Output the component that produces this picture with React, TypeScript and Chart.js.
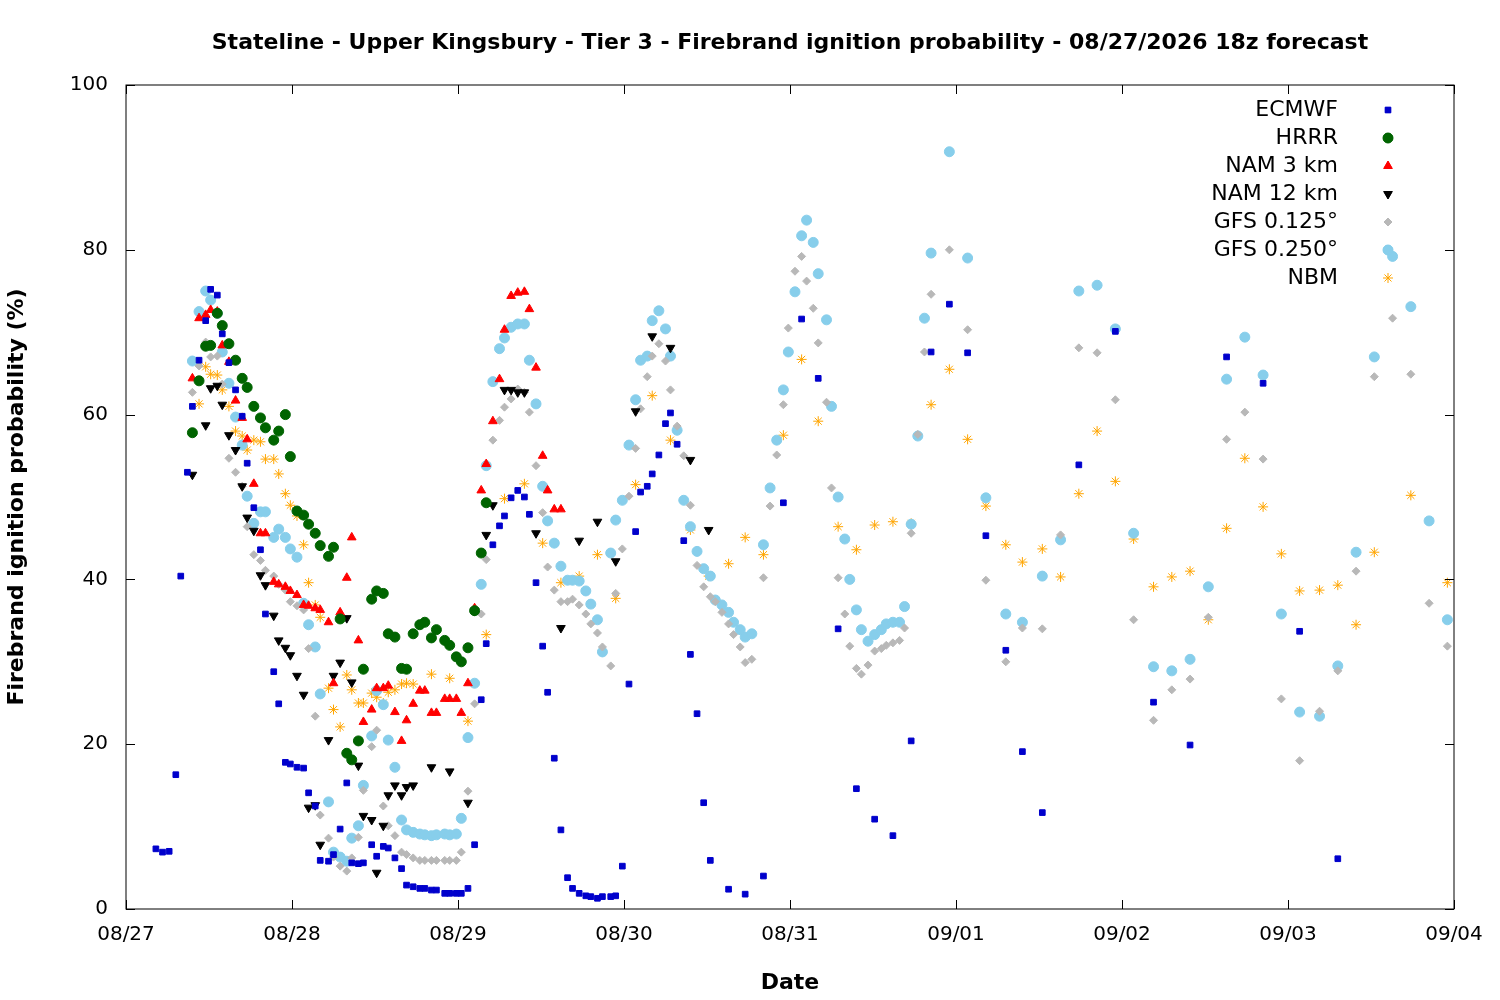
import React, { useEffect, useRef } from "react";
import { Chart, registerables } from "chart.js";
import { drawPoint } from "chart.js/helpers";
Chart.register(...registerables);

const dateLabels = ["08/27","08/28","08/29","08/30","08/31","09/01","09/02","09/03","09/04","09/05"];

// [day offset from 08/27 00z, probability %]
const ecmwf = [[.18,7.3],[.22,6.9],[.26,7.0],[.30,16.3],[.33,40.4],[.37,53.0],[.40,61.0],[.44,66.6],[.48,71.4],[.51,75.2],[.55,74.5],[.58,69.8],[.62,66.3],[.66,63.0],[.70,59.8],[.73,54.1],[.77,48.7],[.81,43.6],[.84,35.8],[.89,28.8],[.92,24.9],[.96,17.8],[.99,17.6],[1.03,17.2],[1.07,17.1],[1.10,14.1],[1.14,12.5],[1.17,5.9],[1.22,5.8],[1.25,6.6],[1.29,9.7],[1.33,15.3],[1.36,5.6],[1.40,5.5],[1.43,5.6],[1.48,7.8],[1.51,6.4],[1.55,7.6],[1.58,7.4],[1.62,6.2],[1.66,4.9],[1.69,2.9],[1.73,2.7],[1.77,2.5],[1.80,2.5],[1.84,2.3],[1.87,2.3],[1.92,1.9],[1.95,1.9],[1.99,1.9],[2.02,1.9],[2.06,2.5],[2.10,7.8],[2.14,25.4],[2.17,32.2],[2.21,44.2],[2.25,46.5],[2.28,47.7],[2.32,49.9],[2.36,50.8],[2.40,50.0],[2.43,47.9],[2.47,39.6],[2.51,31.9],[2.54,26.3],[2.58,18.3],[2.62,9.6],[2.66,3.8],[2.69,2.5],[2.73,1.9],[2.77,1.6],[2.80,1.5],[2.84,1.3],[2.87,1.5],[2.92,1.5],[2.95,1.6],[2.99,5.2],[3.03,27.3],[3.07,45.8],[3.10,50.6],[3.14,51.3],[3.17,52.8],[3.21,55.1],[3.25,58.9],[3.28,60.2],[3.32,56.4],[3.36,44.7],[3.40,30.9],[3.44,23.7],[3.48,12.9],[3.52,5.9],[3.63,2.4],[3.73,1.8],[3.84,4.0],[3.96,49.3],[4.07,71.6],[4.17,64.4],[4.29,34.0],[4.40,14.6],[4.51,10.9],[4.62,8.9],[4.73,20.4],[4.85,67.6],[4.96,73.4],[5.07,67.5],[5.18,45.3],[5.30,31.4],[5.40,19.1],[5.52,11.7],[5.74,53.9],[5.96,70.1],[6.19,25.1],[6.41,19.9],[6.63,67.0],[6.85,63.8],[7.07,33.7],[7.30,6.1]];

const hrrr = [[.40,57.8],[.44,64.1],[.48,68.3],[.51,68.4],[.55,72.3],[.58,70.8],[.62,68.6],[.66,66.6],[.70,64.4],[.73,63.3],[.77,61.0],[.81,59.6],[.84,58.4],[.89,56.9],[.92,58.0],[.96,60.0],[.99,54.9],[1.03,48.3],[1.07,47.8],[1.10,46.7],[1.14,45.6],[1.17,44.1],[1.22,42.8],[1.25,43.9],[1.29,35.2],[1.33,18.9],[1.36,18.1],[1.40,20.4],[1.43,29.1],[1.48,37.6],[1.51,38.6],[1.55,38.3],[1.58,33.4],[1.62,33.0],[1.66,29.2],[1.69,29.1],[1.73,33.4],[1.77,34.5],[1.80,34.8],[1.84,32.9],[1.87,33.9],[1.92,32.6],[1.95,32.0],[1.99,30.6],[2.02,30.0],[2.06,31.7],[2.10,36.2],[2.14,43.2],[2.17,49.3]];

const nam3 = [[.40,64.4],[.44,71.7],[.48,72.1],[.51,72.7],[.55,72.5],[.58,68.4],[.62,66.4],[.66,61.7],[.70,59.6],[.73,57.0],[.77,51.6],[.81,45.6],[.84,45.6],[.89,39.7],[.92,39.4],[.96,39.1],[.99,38.6],[1.03,38.1],[1.07,36.9],[1.10,36.8],[1.14,36.5],[1.17,36.3],[1.22,34.8],[1.25,27.4],[1.29,36.0],[1.33,40.2],[1.36,45.1],[1.40,32.6],[1.43,22.7],[1.48,24.2],[1.51,26.8],[1.55,26.8],[1.58,27.1],[1.62,23.9],[1.66,20.4],[1.69,22.9],[1.73,24.9],[1.77,26.5],[1.80,26.5],[1.84,23.8],[1.87,23.8],[1.92,25.5],[1.95,25.5],[1.99,25.5],[2.02,23.8],[2.06,27.4],[2.10,36.5],[2.14,50.8],[2.17,54.0],[2.21,59.2],[2.25,64.3],[2.28,70.3],[2.32,74.4],[2.36,74.8],[2.40,74.9],[2.43,72.8],[2.47,65.7],[2.51,55.0],[2.54,50.8],[2.58,48.5],[2.62,48.5]];

const nam12 = [[.40,52.7],[.48,58.7],[.51,63.2],[.55,63.5],[.58,61.2],[.62,57.5],[.66,55.7],[.70,51.3],[.73,47.5],[.77,45.9],[.81,40.5],[.84,39.3],[.89,35.6],[.92,32.6],[.96,31.7],[.99,30.8],[1.03,28.3],[1.07,26.0],[1.10,12.3],[1.14,12.6],[1.17,7.8],[1.22,20.5],[1.25,28.3],[1.29,29.9],[1.33,35.3],[1.36,27.5],[1.40,17.4],[1.43,11.3],[1.48,10.8],[1.51,4.4],[1.55,10.1],[1.58,13.8],[1.62,15.0],[1.66,13.8],[1.69,14.8],[1.73,15.0],[1.84,17.2],[1.95,16.7],[2.06,12.9],[2.10,36.2],[2.17,45.4],[2.21,49.0],[2.28,63.0],[2.32,63.0],[2.36,62.7],[2.40,62.7],[2.47,45.6],[2.62,34.1],[2.73,44.7],[2.84,47.0],[2.95,42.2],[3.07,60.4],[3.17,69.5],[3.28,68.1],[3.40,54.5],[3.51,46.0]];

const gfs125 = [[.40,62.7],[.44,65.9],[.48,68.8],[.51,67.0],[.55,67.1],[.58,63.7],[.62,54.7],[.66,53.0],[.70,51.3],[.73,46.4],[.77,43.0],[.81,42.3],[.84,41.1],[.89,40.4],[.92,39.4],[.96,38.7],[.99,37.3],[1.03,36.8],[1.07,36.3],[1.10,31.6],[1.14,23.4],[1.17,11.4],[1.22,8.6],[1.25,6.3],[1.29,5.2],[1.33,4.6],[1.36,6.2],[1.40,8.7],[1.43,14.4],[1.48,19.7],[1.51,21.7],[1.55,12.5],[1.58,10.1],[1.62,8.9],[1.66,6.9],[1.69,6.6],[1.73,6.2],[1.77,5.9],[1.80,5.9],[1.84,5.9],[1.87,5.9],[1.92,5.9],[1.95,5.9],[1.99,5.9],[2.02,6.9],[2.06,14.3],[2.10,24.9],[2.14,35.8],[2.17,42.4],[2.21,56.9],[2.25,59.3],[2.28,60.9],[2.32,61.9],[2.36,63.1],[2.40,62.7],[2.43,60.3],[2.47,53.8],[2.51,48.1],[2.54,41.5],[2.58,38.7],[2.62,37.3],[2.66,37.3],[2.69,37.6],[2.73,36.9],[2.77,35.8],[2.80,34.6],[2.84,33.5],[2.87,31.8],[2.92,29.5],[2.95,38.3],[2.99,43.7],[3.03,50.1],[3.07,55.9],[3.10,60.7],[3.14,64.6],[3.17,67.1],[3.21,68.6],[3.25,66.5],[3.28,63.0],[3.32,58.6],[3.36,55.0],[3.40,49.0],[3.44,41.7],[3.48,39.1],[3.52,37.9],[3.55,37.3],[3.59,36.0],[3.63,34.6],[3.66,33.3],[3.70,31.8],[3.73,29.9],[3.77,30.3],[3.84,40.2],[3.88,48.9],[3.92,55.1],[3.96,61.2],[3.99,70.5],[4.03,77.4],[4.07,79.2],[4.10,76.2],[4.14,72.9],[4.17,68.7],[4.22,61.5],[4.25,51.1],[4.29,40.2],[4.33,35.8],[4.36,31.9],[4.40,29.2],[4.43,28.5],[4.47,29.6],[4.51,31.3],[4.55,31.6],[4.58,32.0],[4.62,32.3],[4.66,32.6],[4.69,34.1],[4.73,45.6],[4.77,57.6],[4.81,67.6],[4.85,74.6],[4.96,80.0],[5.07,70.3],[5.18,39.9],[5.30,30.0],[5.40,34.1],[5.52,34.0],[5.63,45.4],[5.74,68.1],[5.85,67.5],[5.96,61.8],[6.07,35.1],[6.19,22.9],[6.30,26.6],[6.41,27.9],[6.52,35.4],[6.63,57.0],[6.74,60.3],[6.85,54.6],[6.96,25.5],[7.07,18.0],[7.19,24.0],[7.30,28.9],[7.41,41.0],[7.52,64.6],[7.63,71.7],[7.74,64.9],[7.85,37.1],[7.96,31.9]];

const gfs250 = [[.40,66.5],[.44,72.5],[.48,75.0],[.51,73.9],[.55,72.3],[.58,67.6],[.62,63.8],[.66,59.7],[.70,56.3],[.73,50.1],[.77,46.8],[.81,48.2],[.84,48.2],[.89,45.1],[.92,46.1],[.96,45.1],[.99,43.7],[1.03,42.7],[1.07,37.1],[1.10,34.5],[1.14,31.8],[1.17,26.1],[1.22,13.0],[1.25,6.9],[1.29,6.3],[1.33,5.8],[1.36,8.6],[1.40,10.1],[1.43,15.0],[1.48,21.0],[1.51,26.5],[1.55,24.8],[1.58,20.5],[1.62,17.2],[1.66,10.8],[1.69,9.6],[1.73,9.3],[1.77,9.1],[1.80,9.0],[1.84,8.9],[1.87,9.0],[1.92,9.1],[1.95,9.0],[1.99,9.1],[2.02,11.0],[2.06,20.8],[2.10,27.4],[2.14,39.4],[2.17,53.8],[2.21,64.0],[2.25,68.0],[2.28,69.3],[2.32,70.6],[2.36,71.0],[2.40,71.0],[2.43,66.6],[2.47,61.3],[2.51,51.3],[2.54,47.1],[2.58,44.4],[2.62,41.6],[2.66,39.9],[2.69,39.9],[2.73,39.8],[2.77,38.6],[2.80,37.0],[2.84,35.1],[2.87,31.2],[2.92,43.2],[2.95,47.2],[2.99,49.6],[3.03,56.3],[3.07,61.8],[3.10,66.6],[3.14,67.1],[3.17,71.4],[3.21,72.6],[3.25,70.4],[3.28,67.1],[3.32,58.1],[3.36,49.6],[3.40,46.4],[3.44,43.4],[3.48,41.3],[3.52,40.4],[3.55,37.5],[3.59,36.9],[3.63,36.0],[3.66,34.8],[3.70,33.9],[3.73,33.0],[3.77,33.4],[3.84,44.2],[3.88,51.1],[3.92,56.9],[3.96,63.0],[3.99,67.6],[4.03,74.9],[4.07,81.7],[4.10,83.6],[4.14,80.9],[4.17,77.1],[4.22,71.5],[4.25,61.0],[4.29,50.0],[4.33,44.9],[4.36,40.0],[4.40,36.3],[4.43,33.9],[4.47,32.5],[4.51,33.3],[4.55,33.9],[4.58,34.6],[4.62,34.8],[4.66,34.8],[4.69,36.7],[4.73,46.7],[4.77,57.4],[4.81,71.7],[4.85,79.6],[4.96,91.9],[5.07,79.0],[5.18,49.9],[5.30,35.8],[5.40,34.8],[5.52,40.4],[5.63,44.8],[5.74,75.0],[5.85,75.7],[5.96,70.4],[6.07,45.6],[6.19,29.4],[6.30,28.9],[6.41,30.3],[6.52,39.1],[6.63,64.3],[6.74,69.4],[6.85,64.8],[6.96,35.8],[7.07,23.9],[7.19,23.4],[7.30,29.5],[7.41,43.3],[7.52,67.0],[7.63,79.2],[7.74,73.1],[7.85,47.1],[7.96,35.1]];

const nbm = [[.44,61.3],[.48,65.8],[.51,64.9],[.55,64.8],[.58,63.0],[.62,61.0],[.66,58.0],[.70,57.4],[.73,55.7],[.77,56.9],[.81,56.7],[.84,54.6],[.89,54.6],[.92,52.8],[.96,50.4],[.99,49.0],[1.03,47.7],[1.07,44.2],[1.10,39.6],[1.14,36.9],[1.17,35.4],[1.22,26.8],[1.25,24.2],[1.29,22.1],[1.33,28.4],[1.36,26.6],[1.40,25.0],[1.43,25.0],[1.48,26.2],[1.51,25.7],[1.55,25.0],[1.58,26.3],[1.62,26.6],[1.66,27.3],[1.69,27.4],[1.73,27.3],[1.84,28.5],[1.95,28.0],[2.06,22.8],[2.17,33.3],[2.28,49.8],[2.40,51.6],[2.51,44.4],[2.62,39.6],[2.73,40.4],[2.84,43.0],[2.95,37.7],[3.07,51.5],[3.17,62.3],[3.28,56.9],[3.40,46.0],[3.51,40.4],[3.63,41.9],[3.73,45.1],[3.84,43.0],[3.96,57.5],[4.07,66.7],[4.17,59.2],[4.29,46.4],[4.40,43.6],[4.51,46.6],[4.62,47.0],[4.73,46.8],[4.85,61.2],[4.96,65.5],[5.07,57.0],[5.18,48.9],[5.30,44.2],[5.40,42.1],[5.52,43.7],[5.63,40.3],[5.74,50.4],[5.85,58.0],[5.96,51.9],[6.07,44.9],[6.19,39.1],[6.30,40.3],[6.41,41.0],[6.52,35.1],[6.63,46.2],[6.74,54.7],[6.85,48.8],[6.96,43.1],[7.07,38.6],[7.19,38.7],[7.30,39.3],[7.41,34.5],[7.52,43.3],[7.74,50.2],[7.96,39.6]];

const seriesNames = ["ECMWF","HRRR","NAM 3 km","NAM 12 km","GFS 0.125°","GFS 0.250°","NBM"];
const seriesData = [ecmwf, hrrr, nam3, nam12, gfs125, gfs250, nbm];
const seriesColors = ["#0000cc","#006400","#ff0000","#000000","#b8b8b8","#87ceeb","#ffa500"];
const seriesStyles = ["rect","circle","triangle","triangle","rectRot","circle","star"];
const seriesRot = [0,0,0,180,0,0,0];
const seriesRadius = [4,5,5,5,4,5,5];

const FONT = "'DejaVu Sans', sans-serif";

export default function App() {
  const ref = useRef<HTMLCanvasElement>(null);
  useEffect(() => {
    const boxPlugin = {
      id: "box",
      afterDraw(chart: any) {
        const { ctx, chartArea: a } = chart;
        const xs = chart.scales.x, ys = chart.scales.y;
        ctx.save();
        ctx.strokeStyle = "#000"; ctx.lineWidth = 1;
        ctx.strokeRect(a.left, a.top, a.right - a.left, a.bottom - a.top);
        ctx.beginPath();
        for (let i = 0; i <= 8; i++) {
          const x = Math.round(xs.getPixelForValue(i)) + 0.5;
          ctx.moveTo(x, a.bottom); ctx.lineTo(x, a.bottom - 9);
          ctx.moveTo(x, a.top); ctx.lineTo(x, a.top + 9);
        }
        for (let v = 0; v <= 100; v += 20) {
          const y = Math.round(ys.getPixelForValue(v)) + 0.5;
          ctx.moveTo(a.left, y); ctx.lineTo(a.left + 9, y);
          ctx.moveTo(a.right, y); ctx.lineTo(a.right - 9, y);
        }
        ctx.stroke();
        // title
        ctx.fillStyle = "#000";
        ctx.font = `bold 22px ${FONT}`;
        ctx.textAlign = "center"; ctx.textBaseline = "middle";
        ctx.fillText("Stateline - Upper Kingsbury - Tier 3 - Firebrand ignition probability - 08/27/2026 18z forecast", 790, 43);
        // legend
        ctx.font = `22px ${FONT}`;
        ctx.textAlign = "right";
        for (let i = 0; i < seriesNames.length; i++) {
          const y = 110 + 28 * i;
          ctx.fillStyle = "#000";
          ctx.fillText(seriesNames[i], 1338, y);
          const c = seriesColors[i];
          ctx.fillStyle = c; ctx.strokeStyle = c; ctx.lineWidth = 1;
          drawPoint(ctx, { pointStyle: seriesStyles[i], radius: seriesRadius[i], rotation: seriesRot[i], borderWidth: 1 } as any, 1388, y);
          if (seriesStyles[i] !== "star") ctx.fill();
        }
        ctx.restore();
      },
    };
    const chart = new Chart(ref.current!, {
      type: "scatter",
      data: {
        datasets: seriesData.map((d, i) => ({
          label: seriesNames[i],
          data: d.map(([x, y]) => ({ x, y })),
          pointStyle: seriesStyles[i] as any,
          rotation: seriesRot[i],
          pointRadius: seriesRadius[i],
          backgroundColor: seriesColors[i],
          borderColor: seriesColors[i],
          borderWidth: 1,
        })),
      },
      options: {
        animation: false,
        responsive: false,
        layout: { padding: { top: 85, right: 46, left: 0, bottom: 0 } },
        plugins: { legend: { display: false }, tooltip: { enabled: false } },
        scales: {
          x: {
            type: "linear", min: 0, max: 8,
            grid: { display: false },
            border: { display: false },
            afterFit: (s: any) => { s.height = 91; },
            ticks: { stepSize: 1, color: "#000", font: { family: FONT, size: 20 }, padding: 6,
              callback: (v: any) => dateLabels[Number(v)] ?? "" },
            title: { display: true, text: "Date", color: "#000", font: { family: FONT, size: 22, weight: "bold" }, padding: { top: 14 } },
          },
          y: {
            min: 0, max: 100,
            grid: { display: false },
            border: { display: false },
            afterFit: (s: any) => { s.width = 126; },
            ticks: { stepSize: 20, color: "#000", font: { family: FONT, size: 20 }, padding: 10 },
            title: { display: true, text: "Firebrand ignition probability (%)", color: "#000", font: { family: FONT, size: 22, weight: "bold" }, padding: { bottom: 10 } },
          },
        },
      },
      plugins: [boxPlugin],
    });
    return () => chart.destroy();
  }, []);
  return (
    <div style={{ position: "absolute", left: 0, top: 0, width: 1500, height: 1000, background: "#fff" }}>
      <canvas ref={ref} width={1500} height={1000} style={{ width: 1500, height: 1000 }} />
    </div>
  );
}
